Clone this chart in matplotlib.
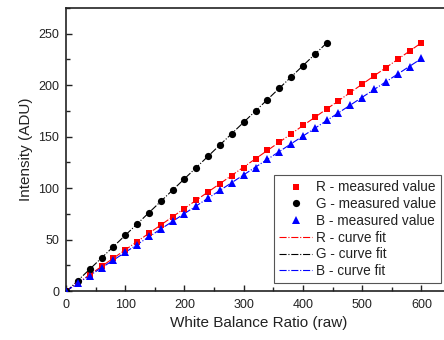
import numpy as np
import matplotlib
matplotlib.use("Agg")
import matplotlib.pyplot as plt
from matplotlib.ticker import MultipleLocator

plt.rcParams['font.family'] = ['Liberation Sans', 'DejaVu Sans']

x_g = [0, 20, 40, 60, 80, 100, 120, 140, 160, 180, 200, 220, 240, 260, 280, 300,
       320, 340, 360, 380, 400, 420, 440]
g_vals = [0, 10, 21, 32, 43, 54, 65, 76, 87, 98, 109, 120, 131, 142, 153, 164,
          175, 186, 197, 208, 219, 230, 241]
x_rb = [0, 20, 40, 60, 80, 100, 120, 140, 160, 180, 200, 220, 240, 260, 280, 300,
        320, 340, 360, 380, 400, 420, 440, 460, 480, 500, 520, 540, 560, 580, 600]
r_vals = [0, 8, 16, 24, 32, 40, 48, 56, 64, 72, 80, 88, 96, 104, 112, 120,
          128, 137, 145, 153, 161, 169, 177, 185, 193, 201, 209, 217, 225, 233, 241]
b_vals = [0, 7.5, 15, 22.5, 30, 37.5, 45, 53, 60, 68, 75, 83, 90, 98, 105, 113,
          120, 128, 135, 143, 151, 158, 166, 173, 181, 188, 196, 203, 211, 218, 226]

W, H = 444, 340
fig = plt.figure(figsize=(W / 100, H / 100), dpi=100)
ax = fig.add_axes([66 / W, 1 - 291 / H, (451 - 66) / W, (291 - 8) / H])

ax.plot(x_rb, r_vals, linestyle='none', marker='s', color='#ff0000', markersize=4.5,
        markeredgewidth=0, label='R - measured value', zorder=3)
ax.plot(x_g, g_vals, linestyle='none', marker='o', color='black', markersize=5.2,
        markeredgewidth=0, label='G - measured value', zorder=3)
ax.plot(x_rb, b_vals, linestyle='none', marker='^', color='#0000ff', markersize=6,
        markeredgewidth=0, label='B - measured value', zorder=3)

# curve fits (linear least squares)
for xs, ys, col, lab in [(x_rb, r_vals, '#ff0000', 'R - curve fit'),
                         (x_g, g_vals, 'black', 'G - curve fit'),
                         (x_rb, b_vals, '#0000ff', 'B - curve fit')]:
    p = np.polyfit(xs, ys, 1)
    xx = np.array([xs[0], xs[-1]])
    ax.plot(xx, np.polyval(p, xx), linestyle='-.', color=col, linewidth=0.8,
            label=lab, zorder=2)

ax.set_xlim(0, 650)
ax.set_ylim(0, 275)
ax.xaxis.set_major_locator(MultipleLocator(100))
ax.xaxis.set_minor_locator(MultipleLocator(50))
ax.yaxis.set_major_locator(MultipleLocator(50))
ax.yaxis.set_minor_locator(MultipleLocator(25))
ax.tick_params(which='both', direction='in', labelsize=9, width=1, colors='#222222',
               labelcolor='#222222')
ax.tick_params(which='major', length=4.5)
ax.tick_params(which='minor', length=3)
ax.tick_params(axis='x', pad=6)
ax.tick_params(axis='y', pad=5)
ax.spines['right'].set_visible(False)
for s in ['left', 'bottom', 'top']:
    ax.spines[s].set_linewidth(1.2)
    ax.spines[s].set_color('#222222')

ax.set_xlabel('White Balance Ratio (raw)', fontsize=11, labelpad=3, color='#222222')
ax.set_ylabel('Intensity (ADU)', fontsize=11, labelpad=4, color='#222222')

leg = ax.legend(loc='upper left', bbox_to_anchor=(274 / W, 1 - 175 / H),
                bbox_transform=fig.transFigure, fontsize=9.8, frameon=True,
                fancybox=False, edgecolor='#555555', framealpha=1,
                handlelength=2.4, handletextpad=0.25, labelspacing=0.2,
                borderpad=0.4, borderaxespad=0)
leg.get_frame().set_linewidth(0.8)
for t in leg.get_texts():
    t.set_color('#222222')

fig.savefig('out.png', dpi=100)
